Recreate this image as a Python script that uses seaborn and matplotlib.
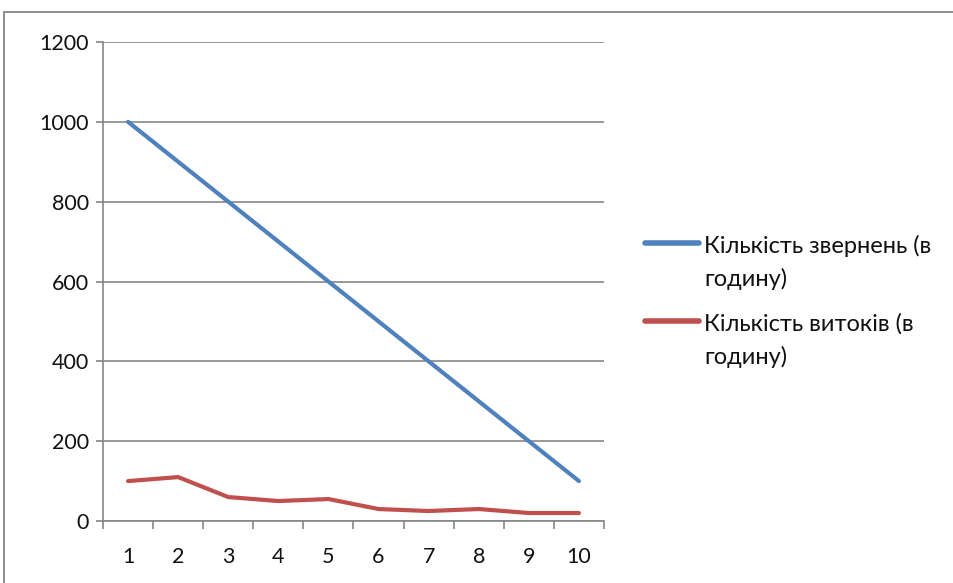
import matplotlib
matplotlib.use("Agg")
import matplotlib.pyplot as plt
import seaborn as sns
import pandas as pd
from matplotlib.patches import Rectangle

# ---- data ----
periods = [1, 2, 3, 4, 5, 6, 7, 8, 9, 10]
requests_per_hour = [1000, 900, 800, 700, 600, 500, 400, 300, 200, 100]
leaks_per_hour = [100, 110, 60, 50, 55, 30, 25, 30, 20, 20]
series_names = ["Кількість звернень (в\nгодину)", "Кількість витоків (в\nгодину)"]
y_ticks = [0, 200, 400, 600, 800, 1000, 1200]

sns.set_theme(style="white")
plt.rcParams['font.family'] = ['Lato', 'Open Sans', 'DejaVu Sans']

GRAY = "#868686"
BLUE = "#4F81BD"
RED = "#C0504D"
TXT = "#111111"

fig = plt.figure(figsize=(9.54, 5.83), dpi=100)
ax = fig.add_axes([103 / 954, 62 / 583, 501 / 954, 479 / 583])

df = pd.DataFrame({
    "period": periods * 2,
    "value": requests_per_hour + leaks_per_hour,
    "series": [series_names[0]] * len(periods) + [series_names[1]] * len(periods),
})
sns.lineplot(data=df, x="period", y="value", hue="series",
             palette=[BLUE, RED], linewidth=3.0, ax=ax, legend=True,
             solid_capstyle="round")

ax.set_xlim(0.5, 10.5)
ax.set_ylim(0, 1200)
ax.set_yticks(y_ticks)
ax.set_yticklabels([str(v) for v in y_ticks])
ax.set_xticks(periods)
ax.set_xticklabels([str(p) for p in periods])
ax.set_xticks([p - 0.5 for p in periods] + [10.5], minor=True)
ax.set_xlabel("")
ax.set_ylabel("")

ax.grid(axis="y", color=GRAY, linewidth=1.2)
ax.grid(axis="x", visible=False)
ax.set_axisbelow(True)
for side in ["top", "right"]:
    ax.spines[side].set_visible(False)
for side in ["left", "bottom"]:
    ax.spines[side].set_color(GRAY)
    ax.spines[side].set_linewidth(1.2)

ax.tick_params(axis="y", which="major", direction="out", length=5, width=1.2,
               color=GRAY, labelsize=15.5, labelcolor=TXT, pad=5, left=True)
ax.tick_params(axis="x", which="major", length=0, labelsize=15.5,
               labelcolor=TXT, pad=19)
ax.tick_params(axis="x", which="minor", direction="out", length=6, width=1.2,
               color=GRAY, bottom=True)

handles, labels = ax.get_legend_handles_labels()
ax.get_legend().remove()
leg = fig.legend(handles, labels, loc="upper left",
                 bbox_to_anchor=(636 / 954, 1 - 225 / 583),
                 frameon=False, handlelength=2.25,
                 handletextpad=0.25, labelspacing=0.95, borderaxespad=0,
                 prop={"size": 17})
for t in leg.get_texts():
    t.set_linespacing(1.65)
    t.set_color(TXT)
for h in leg.get_lines():
    h.set_linewidth(4)
    h.set_solid_capstyle("round")
for col in leg._legend_handle_box.get_children():
    for item in col.get_children():
        item.align = "top"

# outer chart frame
fig.patches.append(Rectangle((4 / 954, -0.1), 1.2, 1 - 12 / 583 + 0.1,
                             transform=fig.transFigure, fill=False,
                             edgecolor=GRAY, linewidth=1.3))

fig.savefig("out.png", dpi=100)
